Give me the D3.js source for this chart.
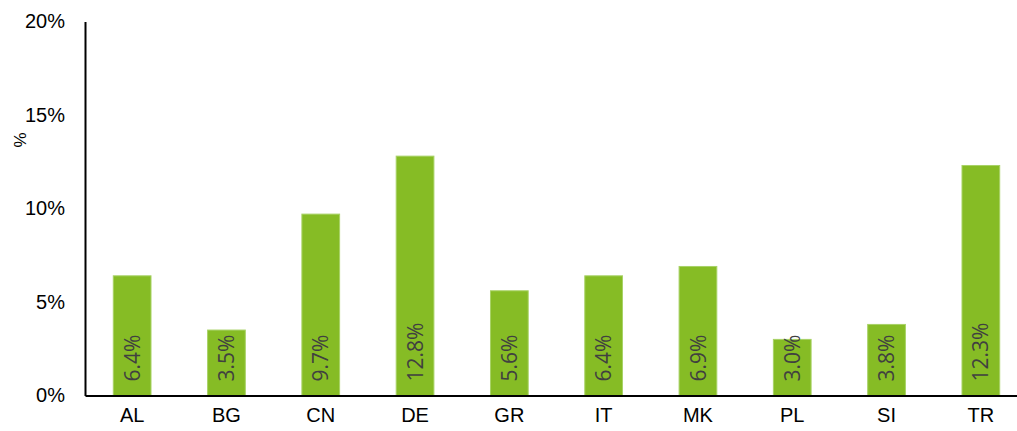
<!DOCTYPE html>
<html>
<head>
<meta charset="utf-8">
<script src="https://cdn.jsdelivr.net/npm/d3@7"></script>
<style>
  body { margin: 0; background: #fff; }
  svg { display: block; }
</style>
</head>
<body>
<svg id="chart"></svg>
<script>
// data
const countries = ["AL", "BG", "CN", "DE", "GR", "IT", "MK", "PL", "SI", "TR"];
const shares = [6.4, 3.5, 9.7, 12.8, 5.6, 6.4, 6.9, 3.0, 3.8, 12.3];
const yTicks = [0, 5, 10, 15, 20];

const width = 1017, height = 431;

const svg = d3.select("#chart")
  .attr("width", width)
  .attr("height", height);

// scales
const x = d3.scaleBand()
  .domain(countries)
  .range([85, 1028])
  .paddingInner(0.6)
  .paddingOuter(0.3);

const y = d3.scaleLinear()
  .domain([0, 20])
  .range([395.5, 21.5]);

// bars
svg.append("g")
  .selectAll("rect")
  .data(countries)
  .join("rect")
  .attr("x", d => x(d))
  .attr("y", (d, i) => y(shares[i]))
  .attr("width", x.bandwidth())
  .attr("height", (d, i) => y(0) - y(shares[i]))
  .attr("fill", "#86bc25")
  .attr("stroke", "#a8d266")
  .attr("stroke-width", 1);

// value labels, rotated inside the bars
svg.append("g")
  .selectAll("text")
  .data(countries)
  .join("text")
  .attr("transform", d => "translate(" + (x(d) + x.bandwidth() / 2) + "," + (y(0) - 14) + ") rotate(-90)")
  .attr("dy", "0.36em")
  .attr("text-anchor", "start")
  .style("font-family", "'Open Sans', sans-serif")
  .style("font-size", "21px")
  .attr("fill", "#404040")
  .text((d, i) => shares[i].toFixed(1) + "%");

// y axis
const yAxis = svg.append("g")
  .attr("transform", "translate(85,0)")
  .call(d3.axisLeft(y).tickValues(yTicks).tickSize(0).tickPadding(20).tickFormat(d => d + "%"));
yAxis.select(".domain").attr("stroke", "#000").attr("stroke-width", 2);
yAxis.selectAll("text")
  .style("font-family", "Arial, 'Liberation Sans', sans-serif")
  .style("font-size", "20px")
  .attr("fill", "#000");

// x axis
const xAxis = svg.append("g")
  .attr("transform", "translate(0,395.5)")
  .call(d3.axisBottom(x).tickSize(0).tickPadding(12));
xAxis.select(".domain").attr("stroke", "#000").attr("stroke-width", 2);
xAxis.selectAll("text")
  .style("font-family", "Arial, 'Liberation Sans', sans-serif")
  .style("font-size", "20px")
  .attr("fill", "#000");

// y axis title
svg.append("text")
  .attr("transform", "translate(20.5,140) rotate(-90)")
  .attr("text-anchor", "middle")
  .attr("dy", "0.35em")
  .style("font-family", "Arial, 'Liberation Sans', sans-serif")
  .style("font-size", "17px")
  .text("%");
</script>
</body>
</html>
